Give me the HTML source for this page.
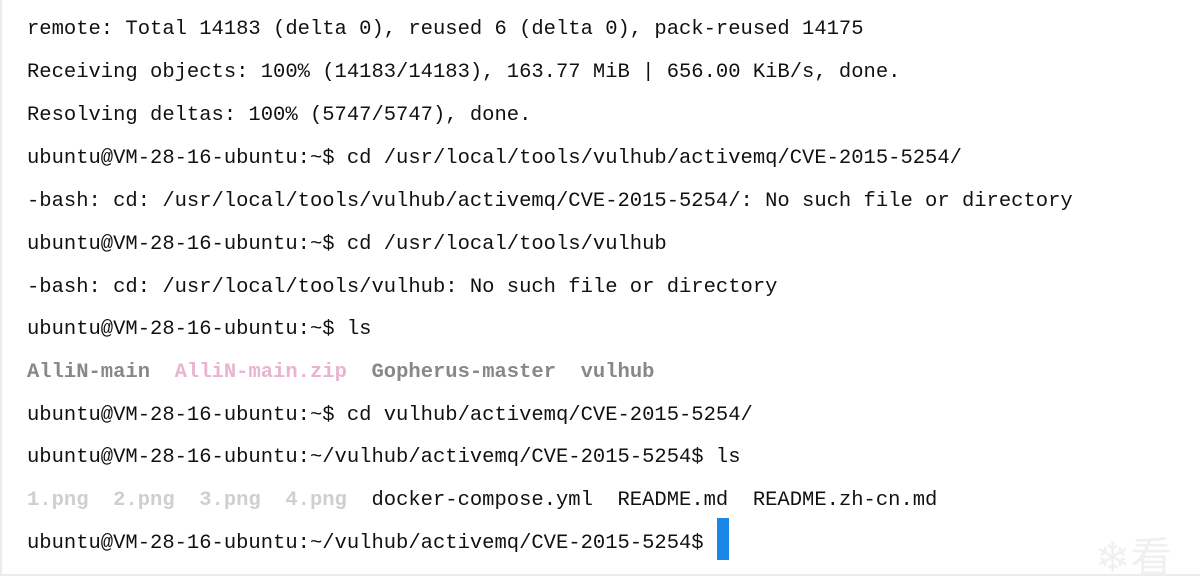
<!DOCTYPE html>
<html><head><meta charset="utf-8"><style>
html,body{margin:0;padding:0;background:#fff;}
body{width:1200px;height:576px;position:relative;overflow:hidden;font-family:"Liberation Mono","DejaVu Sans Mono",monospace;font-size:20.5px;color:#111;}
.l{position:absolute;left:27px;white-space:pre;line-height:43px;height:43px;}
.b{font-weight:bold;}
.g{color:#888;}
.p{color:#e8b4cf;}
.lg{color:#cfcfcf;}
#lb{position:absolute;left:0;top:0;width:2px;height:576px;background:#ececec;}
#bb{position:absolute;left:0;top:574px;width:1200px;height:2px;background:#ececec;}
#cur{position:absolute;left:717px;top:518px;width:12px;height:42px;background:#1a86e8;}
#wm{position:absolute;left:1095px;top:524px;font-family:"Noto Sans CJK SC",sans-serif;font-size:42px;color:#f0f0f0;}
</style></head><body>
<div id="lb"></div><div id="bb"></div>
<div class="l" style="top:8px">remote: Total 14183 (delta 0), reused 6 (delta 0), pack-reused 14175</div>
<div class="l" style="top:51px">Receiving objects: 100% (14183/14183), 163.77 MiB | 656.00 KiB/s, done.</div>
<div class="l" style="top:94px">Resolving deltas: 100% (5747/5747), done.</div>
<div class="l" style="top:137px">ubuntu@VM-28-16-ubuntu:~$ cd /usr/local/tools/vulhub/activemq/CVE-2015-5254/</div>
<div class="l" style="top:180px">-bash: cd: /usr/local/tools/vulhub/activemq/CVE-2015-5254/: No such file or directory</div>
<div class="l" style="top:223px">ubuntu@VM-28-16-ubuntu:~$ cd /usr/local/tools/vulhub</div>
<div class="l" style="top:266px">-bash: cd: /usr/local/tools/vulhub: No such file or directory</div>
<div class="l" style="top:308px">ubuntu@VM-28-16-ubuntu:~$ ls</div>
<div class="l b" style="top:351px"><span class="g">AlliN-main</span>  <span class="p">AlliN-main.zip</span>  <span class="g">Gopherus-master</span>  <span class="g">vulhub</span></div>
<div class="l" style="top:394px">ubuntu@VM-28-16-ubuntu:~$ cd vulhub/activemq/CVE-2015-5254/</div>
<div class="l" style="top:436px">ubuntu@VM-28-16-ubuntu:~/vulhub/activemq/CVE-2015-5254$ ls</div>
<div class="l" style="top:479px"><span class="lg b">1.png  2.png  3.png  4.png</span>  docker-compose.yml  README.md  README.zh-cn.md</div>
<div class="l" style="top:522px">ubuntu@VM-28-16-ubuntu:~/vulhub/activemq/CVE-2015-5254$</div>
<div id="cur"></div>
<div id="wm">❄看</div>
</body></html>
